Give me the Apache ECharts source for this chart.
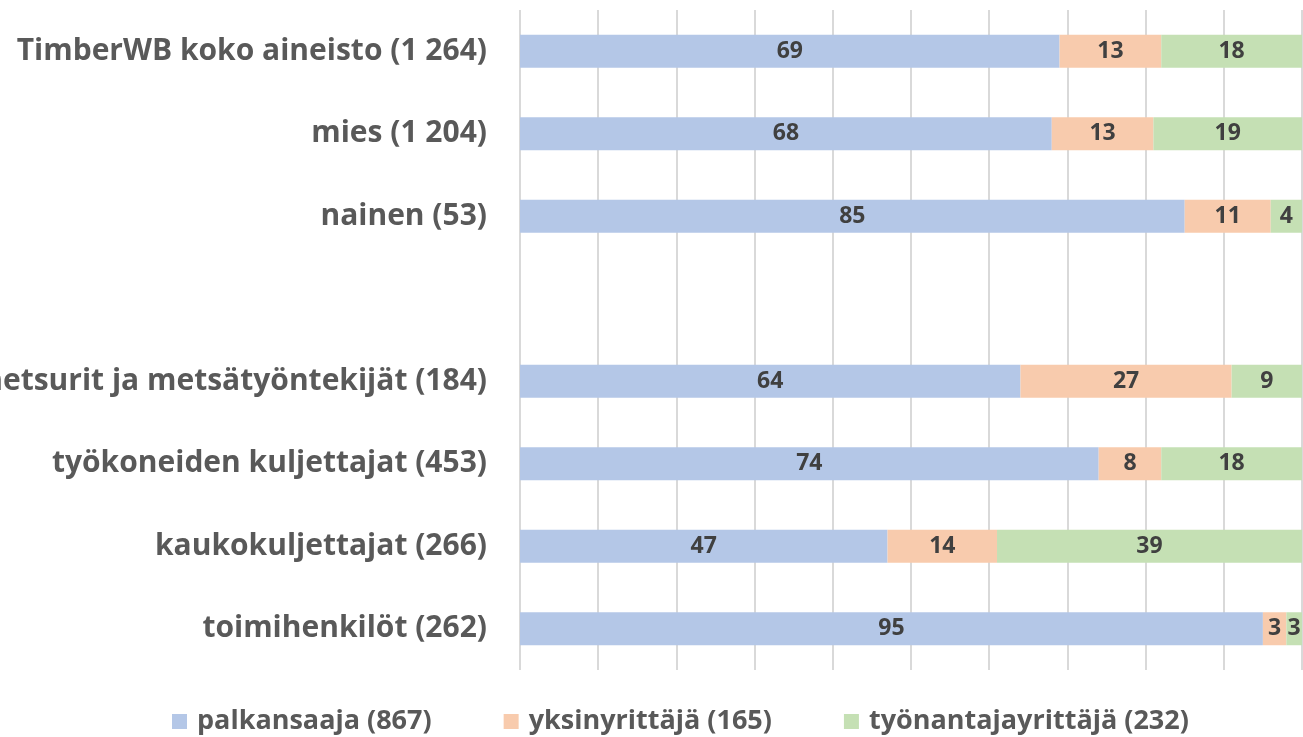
<!DOCTYPE html>
<html>
<head>
<meta charset="utf-8">
<script src="https://cdn.jsdelivr.net/npm/echarts@6/dist/echarts.min.js"></script>
<style>
  html, body { margin: 0; padding: 0; background: #ffffff; }
  #chart { width: 1303px; height: 737px; }
</style>
</head>
<body>
<div id="chart"></div>
<script>
// Groups, top to bottom; the empty entry leaves a gap between the two blocks
const categories = [
  'TimberWB koko aineisto (1 264)',
  'mies (1 204)',
  'nainen (53)',
  '',
  'metsurit ja metsätyöntekijät (184)',
  'työkoneiden kuljettajat (453)',
  'kaukokuljettajat (266)',
  'toimihenkilöt (262)'
];

const seriesNames = ['palkansaaja (867)', 'yksinyrittäjä (165)', 'työnantajayrittäjä (232)'];

// Shares in percent per group
const palkansaaja        = [69, 68, 85, null, 64, 74, 47, 95];
const yksinyrittaja      = [13, 13, 11, null, 27,  8, 14,  3];
const tyonantajayrittaja = [18, 19,  4, null,  9, 18, 39,  3];

const colors = ['#b4c7e7', '#f8cbad', '#c5e0b4'];
const textGray = '#595959';
const fontFamily = '"Open Sans", "Noto Sans", sans-serif';

const values = [palkansaaja, yksinyrittaja, tyonantajayrittaja];

const chart = echarts.init(document.getElementById('chart'), null, { renderer: 'canvas' });

chart.setOption({
  animation: false,
  textStyle: { fontFamily: fontFamily },
  grid: {
    left: 520, right: 1, top: 10, bottom: 67,
    containLabel: false,
    outerBoundsMode: 'none'   // long category labels may run past the left edge
  },
  legend: {
    top: 703,
    left: 167,
    itemWidth: 15,
    itemHeight: 15,
    itemGap: 72,
    icon: 'rect',
    textStyle: {
      color: textGray, fontSize: 27, fontWeight: 'bold', fontFamily: fontFamily,
      padding: [0, 0, 0, 5]
    },
    data: seriesNames
  },
  xAxis: {
    type: 'value',
    min: 0,
    max: 100,
    interval: 10,
    axisLabel: { show: false },
    axisLine: { show: false },
    axisTick: { show: false },
    splitLine: { show: true, lineStyle: { color: '#d9d9d9', width: 2 } }
  },
  yAxis: {
    type: 'category',
    inverse: true,
    data: categories,
    axisLine: { show: false },
    axisTick: { show: false },
    axisLabel: {
      color: textGray,
      fontSize: 30,
      fontWeight: 'bold',
      fontFamily: fontFamily,
      margin: 33
    }
  },
  series: seriesNames.map((name, i) => ({
    name: name,
    type: 'bar',
    stack: 'total',
    barWidth: '40%',
    itemStyle: { color: colors[i] },
    label: {
      show: true,
      position: 'inside',
      color: '#404040',
      fontSize: 23,
      fontWeight: 'bold',
      fontFamily: fontFamily,
      formatter: p => (p.value == null ? '' : String(p.value))
    },
    data: values[i]
  }))
});
</script>
</body>
</html>
